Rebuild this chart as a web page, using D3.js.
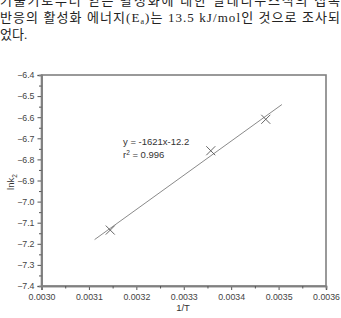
<!DOCTYPE html>
<html>
<head>
<meta charset="utf-8">
<script src="https://cdn.jsdelivr.net/npm/d3@7"></script>
<style>
  body { margin: 0; background: #fff; }
  svg { display: block; }
</style>
</head>
<body>
<svg></svg>
<script>
// data
let invT = [0.003145, 0.003357, 0.003473]
let lnk = [-7.135, -6.759, -6.61]
let fitX = [0.003112, 0.003507]
let fitY = [-7.18, -6.54]
let xTicks = [0.0030, 0.0031, 0.0032, 0.0033, 0.0034, 0.0035, 0.0036]
let yTicks = [-6.4, -6.5, -6.6, -6.7, -6.8, -6.9, -7.0, -7.1, -7.2, -7.3, -7.4]
let fitLabel = ['y = -1621x-12.2', 'r² = 0.996']
let bodyText = [
    '기울기로부터 얻은 활성화에 대한 알레니우스식의 접촉',
    '반응의 활성화 에너지(E_a)는 13.5 kJ/mol인 것으로 조사되',
    '었다.'
]

let width = 341
let height = 318
let padL = 41.5, padR = 326, padT = 75, padB = 286

let svg = d3.select('svg').attr('width', width).attr('height', height)

// paragraph above the figure (first line is cropped by the page edge, as in the scan)
let para = svg.append('g')
    .attr('font-family', '"Liberation Serif", "Noto Sans CJK KR", serif')
    .attr('font-size', 13)
    .attr('fill', '#222')

para.append('text').attr('x', 0).attr('y', 5)
    .attr('textLength', 340).attr('lengthAdjust', 'spacing')
    .text(bodyText[0])

let t1 = para.append('text').attr('x', 0).attr('y', 21.5)
    .attr('textLength', 340).attr('lengthAdjust', 'spacing')
t1.append('tspan').text('반응의 활성화 에너지(E')
t1.append('tspan').attr('font-size', 8).attr('dy', 2).text('a')
t1.append('tspan').attr('dy', -2).text(')는 13.5 kJ/mol인 것으로 조사되')

para.append('text').attr('x', 0).attr('y', 38.5).text(bodyText[2])

let x = d3.scaleLinear().domain([0.0030, 0.0036]).range([padL, padR])
let y = d3.scaleLinear().domain([-7.4, -6.4]).range([padB, padT])

let axisColor = '#808080'

// frame
svg.append('rect')
   .attr('x', padL).attr('y', padT)
   .attr('width', padR - padL).attr('height', padB - padT)
   .attr('fill', 'none').attr('stroke', axisColor).attr('stroke-width', 1.6)

let xAxis = d3.axisBottom(x).tickValues(xTicks).tickFormat(d3.format('.4f')).tickSize(4)
let yAxis = d3.axisLeft(y).tickValues(yTicks).tickFormat(d3.format('.1f')).tickSize(4)

let xMinor = d3.axisBottom(x).tickValues(d3.range(0, 6).map(i => 0.00305 + i * 0.0001)).tickFormat('').tickSize(2.5)
let yMinor = d3.axisLeft(y).tickValues(d3.range(0, 10).map(i => -7.35 + i * 0.1)).tickFormat('').tickSize(2.5)

let styleAxis = (g) => {
    g.select('.domain').attr('stroke', axisColor).attr('stroke-width', 1.6)
    g.selectAll('line').attr('stroke', '#555')
    g.selectAll('text').attr('fill', '#444')
        .attr('font-family', '"Liberation Sans", Arial, sans-serif')
        .attr('font-size', 8.8)
}

svg.append('g').attr('transform', 'translate(0,' + padB + ')').call(xAxis).call(styleAxis)
   .selectAll('text').attr('dy', '0.85em')
svg.append('g').attr('transform', 'translate(' + padL + ',0)').call(yAxis).call(styleAxis)
svg.append('g').attr('transform', 'translate(0,' + padB + ')').call(xMinor).call(styleAxis)
svg.append('g').attr('transform', 'translate(' + padL + ',0)').call(yMinor).call(styleAxis)

// fit line
svg.append('line')
   .attr('x1', x(fitX[0])).attr('y1', y(fitY[0]))
   .attr('x2', x(fitX[1])).attr('y2', y(fitY[1]))
   .attr('stroke', '#8a8a8a').attr('stroke-width', 1)

// data markers (x crosses)
let s = 4.5
svg.selectAll('path.pt')
   .data(invT.map((v, i) => [v, lnk[i]]))
   .enter()
   .append('path')
   .attr('class', 'pt')
   .attr('d', d => {
       let cx = x(d[0]), cy = y(d[1])
       return 'M' + (cx - s) + ',' + (cy - s) + 'L' + (cx + s) + ',' + (cy + s) +
              'M' + (cx - s) + ',' + (cy + s) + 'L' + (cx + s) + ',' + (cy - s)
   })
   .attr('stroke', '#555').attr('stroke-width', 0.9).attr('fill', 'none')

// fit annotation
let ann = svg.append('g')
    .attr('font-family', '"Liberation Sans", Arial, sans-serif')
    .attr('font-size', 9.5).attr('fill', '#333')
ann.append('text').attr('x', 123).attr('y', 145).text(fitLabel[0])
let r2 = ann.append('text').attr('x', 123).attr('y', 158)
r2.append('tspan').text('r')
r2.append('tspan').attr('font-size', 6.5).attr('dy', -3.5).text('2')
r2.append('tspan').attr('dy', 3.5).text(' = 0.996')

// axis titles
let lab = svg.append('g')
    .attr('font-family', '"Liberation Sans", Arial, sans-serif')
    .attr('font-size', 9.5).attr('fill', '#333')
lab.append('text').attr('x', 183).attr('y', 311).attr('text-anchor', 'middle').text('1/T')
let yl = lab.append('text').attr('transform', 'translate(14,' + 182 + ') rotate(-90)')
    .attr('text-anchor', 'middle')
yl.append('tspan').text('lnk')
yl.append('tspan').attr('font-size', 6.5).attr('dy', 2.5).text('2')
</script>
</body>
</html>
